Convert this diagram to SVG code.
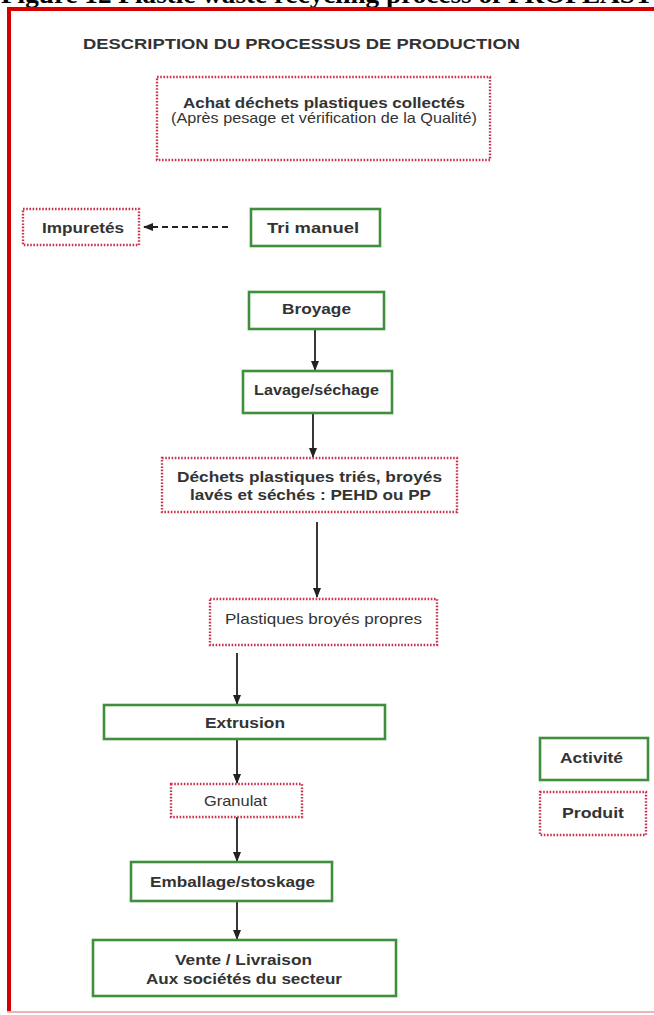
<svg xmlns="http://www.w3.org/2000/svg" width="654" height="1015" viewBox="0 0 654 1015">
<style>
.act{fill:#ffffff;stroke:#3f8f3f;stroke-width:2.6}
.prod{fill:#ffffff;stroke:#c8324e;stroke-width:2.4;stroke-dasharray:1.6 1.6}
.t{font-family:"Liberation Sans",Arial,sans-serif;font-size:15px;font-weight:bold;fill:#333333}
.r{font-weight:normal}
.flow{stroke:#222222;stroke-width:1.8;fill:none}
.dash{stroke-dasharray:6 4}
</style>
<defs>
<marker id="ah" markerUnits="userSpaceOnUse" markerWidth="10" markerHeight="10" viewBox="0 0 10 10" refX="9" refY="5" orient="auto">
<path d="M0,1 L10,5 L0,9 Z" fill="#222222"/>
</marker>
</defs>
<rect x="0" y="0" width="654" height="1015" fill="#ffffff"/>
<text x="1" y="2.5" font-family="'Liberation Serif','Times New Roman',serif" font-weight="bold" font-size="26" fill="#000000" textLength="652" lengthAdjust="spacingAndGlyphs">Figure 12 Plastic waste recycling process of PROPLAST</text>
<g id="frame">
<line x1="9" y1="7" x2="9" y2="1013" stroke="#d40000" stroke-width="4"/>
<line x1="7" y1="9" x2="660" y2="9" stroke="#d40000" stroke-width="4"/>
<line x1="7" y1="1012" x2="660" y2="1012" stroke="#f0b4b4" stroke-width="2"/>
</g>
<g id="title">
<text class="t" x="83" y="49" font-size="16" textLength="437" lengthAdjust="spacingAndGlyphs">DESCRIPTION DU PROCESSUS DE PRODUCTION</text>
</g>
<g id="connectors">
<line class="flow dash" x1="228" y1="227" x2="144" y2="227" marker-end="url(#ah)"/>
<line class="flow" x1="315" y1="329" x2="315" y2="370" marker-end="url(#ah)"/>
<line class="flow" x1="313" y1="413" x2="313" y2="457" marker-end="url(#ah)"/>
<line class="flow" x1="317" y1="522" x2="317" y2="597" marker-end="url(#ah)"/>
<line class="flow" x1="237" y1="653" x2="237" y2="704" marker-end="url(#ah)"/>
<line class="flow" x1="237" y1="739" x2="237" y2="783" marker-end="url(#ah)"/>
<line class="flow" x1="237" y1="817" x2="237" y2="861" marker-end="url(#ah)"/>
<line class="flow" x1="237" y1="901" x2="237" y2="939" marker-end="url(#ah)"/>
</g>
<g id="achat">
<rect class="prod" x="157" y="77" width="333" height="83"/>
<text class="t" x="183" y="108" textLength="282" lengthAdjust="spacingAndGlyphs">Achat déchets plastiques collectés</text>
<text class="t r" x="171" y="123" font-size="14" textLength="306" lengthAdjust="spacingAndGlyphs">(Après pesage et vérification de la Qualité)</text>
</g>
<g id="impuretes">
<rect class="prod" x="23" y="209" width="116" height="36"/>
<text class="t" x="42" y="233" textLength="82" lengthAdjust="spacingAndGlyphs">Impuretés</text>
</g>
<g id="tri">
<rect class="act" x="251" y="209" width="129" height="37"/>
<text class="t" x="267" y="233" textLength="92" lengthAdjust="spacingAndGlyphs">Tri manuel</text>
</g>
<g id="broyage">
<rect class="act" x="249" y="292" width="135" height="37"/>
<text class="t" x="282" y="314" textLength="69" lengthAdjust="spacingAndGlyphs">Broyage</text>
</g>
<g id="lavage">
<rect class="act" x="243" y="371" width="149" height="42"/>
<text class="t" x="254" y="395" textLength="125" lengthAdjust="spacingAndGlyphs">Lavage/séchage</text>
</g>
<g id="dechets">
<rect class="prod" x="162" y="458" width="295" height="54"/>
<text class="t" x="177" y="482" textLength="265" lengthAdjust="spacingAndGlyphs">Déchets plastiques triés, broyés</text>
<text class="t" x="190" y="500" textLength="241" lengthAdjust="spacingAndGlyphs">lavés et séchés : PEHD ou PP</text>
</g>
<g id="plastiques">
<rect class="prod" x="210" y="599" width="227" height="46"/>
<text class="t r" x="225" y="624" textLength="197" lengthAdjust="spacingAndGlyphs">Plastiques broyés propres</text>
</g>
<g id="extrusion">
<rect class="act" x="104" y="705" width="281" height="34"/>
<text class="t" x="205" y="728" textLength="80" lengthAdjust="spacingAndGlyphs">Extrusion</text>
</g>
<g id="granulat">
<rect class="prod" x="171" y="784" width="131" height="33"/>
<text class="t r" x="204" y="806" textLength="63" lengthAdjust="spacingAndGlyphs">Granulat</text>
</g>
<g id="emballage">
<rect class="act" x="131" y="862" width="201" height="39"/>
<text class="t" x="150" y="887" textLength="165" lengthAdjust="spacingAndGlyphs">Emballage/stoskage</text>
</g>
<g id="vente">
<rect class="act" x="93" y="940" width="303" height="56"/>
<text class="t" x="175" y="965" textLength="137" lengthAdjust="spacingAndGlyphs">Vente / Livraison</text>
<text class="t" x="146" y="984" textLength="196" lengthAdjust="spacingAndGlyphs">Aux sociétés du secteur</text>
</g>
<g id="legend-activite">
<rect class="act" x="540" y="738" width="108" height="42"/>
<text class="t" x="560" y="763" textLength="63" lengthAdjust="spacingAndGlyphs">Activité</text>
</g>
<g id="legend-produit">
<rect class="prod" x="540" y="792" width="106" height="43"/>
<text class="t" x="562" y="818" textLength="62" lengthAdjust="spacingAndGlyphs">Produit</text>
</g>
</svg>
